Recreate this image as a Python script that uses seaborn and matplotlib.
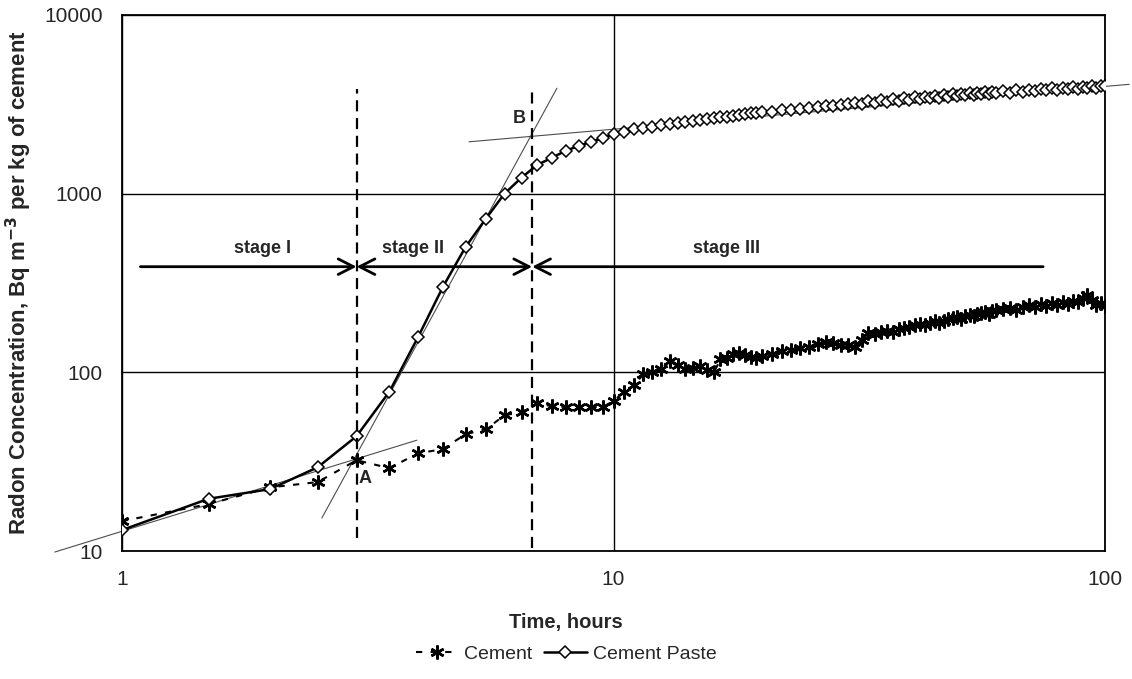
import matplotlib
matplotlib.use("Agg")
import matplotlib.pyplot as plt
import seaborn as sns
import pandas as pd

# time grid (hours) shared by both series
hours = [1.0, 1.5, 2.0, 2.5, 3.0, 3.5, 4.0, 4.5, 5.0, 5.5, 6.0, 6.5, 7.0, 7.5,
         8.0, 8.5, 9.0, 9.5, 10.0, 10.5, 11.0, 11.5, 12.0, 12.5, 13.0, 13.5,
         14.0, 14.5, 15.0, 15.5, 16.0, 16.5, 17.0, 17.5, 18.0, 18.5, 19.0,
         19.5, 20.0,
         21, 22, 23, 24, 25, 26, 27, 28, 29, 30, 31, 32, 33, 34, 35, 36, 37,
         38, 39, 40, 41, 42, 43, 44, 45, 46, 47, 48, 49, 50, 51, 52, 53, 54,
         55, 56, 57, 58, 59, 60,
         62, 64, 66, 68, 70, 72, 74, 76, 78, 80, 82, 84, 86, 88, 90, 92, 94,
         96, 98, 100]

cement = [14.7, 18.3, 22.7, 24.3, 32.2, 29.1, 35.2, 37.2, 45.1, 48.0, 57.5,
          59.8, 67, 64.6, 64, 64, 64, 64, 69, 78, 84.5, 97.5, 100, 105, 115,
          110, 104, 106, 109, 103, 100, 118, 121, 126, 129, 125, 122, 120, 124,
          127, 131, 133, 136, 139, 144, 147, 145, 142, 143, 139, 152, 166, 163,
          168, 171, 169, 175, 178, 180, 185, 187, 184, 189, 193, 190, 194, 198,
          201, 203, 199, 207, 210, 206, 212, 214, 218, 213, 220, 222,
          226, 229, 224, 233, 237, 232, 240, 236, 243, 238, 246, 241, 250, 247,
          262, 270, 255, 238, 245, 235]

paste = [13.1, 19.6, 22.2, 29.4, 43.9, 78, 157, 302, 503, 725, 1000, 1230,
         1450, 1590, 1740, 1850, 1950, 2040, 2160, 2200, 2300, 2340, 2370,
         2420, 2450, 2480, 2510, 2550, 2580, 2610, 2640, 2670, 2700, 2730,
         2760, 2780, 2810, 2830, 2850,
         2880, 2920, 2950, 2990, 3020, 3050, 3080, 3110, 3140, 3170,
         3230, 3170, 3280, 3220, 3330, 3260, 3370, 3310, 3410, 3350,
         3460, 3390, 3490, 3420, 3530, 3450, 3560, 3480, 3590, 3520,
         3620, 3550, 3650, 3570, 3680, 3600, 3700, 3620, 3720, 3640,
         3760, 3680, 3790, 3720, 3820, 3750, 3860, 3780, 3890, 3810,
         3920, 3840, 3940, 3870, 3960, 3890, 3990, 3920, 4010, 4000]

# stage boundaries and tangent lines
stage_bounds = [3.0, 6.83]
stage_names = ["stage I", "stage II", "stage III"]
stage_label_x = [1.93, 3.91, 17.0]
arrow_y = 390
tangent_1 = ([0.73, 3.98], [9.87, 41.7])
tangent_2 = ([2.55, 7.67], [15.3, 3890])
tangent_3 = ([5.08, 112], [1950, 4090])

sns.set_style("white")
plt.rcParams["font.family"] = ["Liberation Sans", "DejaVu Sans"]

df = pd.DataFrame({"hours": hours, "Cement": cement, "Cement Paste": paste})

fig = plt.figure(figsize=(11.32, 6.79), dpi=100)
ax = fig.add_axes([0.1078, 0.1885, 0.8684, 0.7895])

# tangent lines
for tx, ty in (tangent_1, tangent_2, tangent_3):
    ax.plot(tx, ty, color="0.3", lw=0.8, clip_on=False, zorder=2)

sns.lineplot(data=df, x="hours", y="Cement", ax=ax, estimator=None, sort=False,
             color="black", lw=1.5, linestyle=(0, (3, 4)), marker=(6, 2, 0),
             markersize=10, markeredgewidth=1.8, markeredgecolor="black",
             label="Cement", zorder=3)
sns.lineplot(data=df, x="hours", y="Cement Paste", ax=ax, estimator=None, sort=False,
             color="black", lw=1.8, marker="D", markersize=6.5,
             markerfacecolor="white", markeredgecolor="black", markeredgewidth=1.1,
             label="Cement Paste", zorder=4)

ax.set_xscale("log")
ax.set_yscale("log")
ax.set_xlim(1, 100)
ax.set_ylim(10, 10000)
ax.set_xticks([1, 10, 100])
ax.set_xticklabels(["1", "10", "100"])
ax.set_yticks([10, 100, 1000, 10000])
ax.set_yticklabels(["10", "100", "1000", "10000"])
ax.minorticks_off()
ax.tick_params(length=0, labelsize=15, pad=14)
ax.grid(True, which="major", color="black", lw=1)
for s in ax.spines.values():
    s.set_color("black")
    s.set_linewidth(1.3)

# stage dividers
for xb, ybot in zip(stage_bounds, [11.8, 10.4]):
    ax.plot([xb, xb], [ybot, 3870], color="black", lw=1.6,
            linestyle=(0, (5, 3)), zorder=5)

# stage arrows
arr = dict(lw=2, color="black", shrinkA=0, shrinkB=0, mutation_scale=20)
ax.annotate("", xy=(stage_bounds[0], arrow_y), xytext=(1.09, arrow_y),
            arrowprops=dict(arrowstyle="->,head_length=0.55,head_width=0.28", **arr))
ax.annotate("", xy=(stage_bounds[1], arrow_y), xytext=(stage_bounds[0], arrow_y),
            arrowprops=dict(arrowstyle="<->,head_length=0.55,head_width=0.28", **arr))
ax.annotate("", xy=(74.8, arrow_y), xytext=(stage_bounds[1], arrow_y),
            arrowprops=dict(arrowstyle="<-,head_length=0.55,head_width=0.28", **arr))
for name, lx in zip(stage_names, stage_label_x):
    ax.text(lx, 490, name, ha="center", va="center", fontsize=13, fontweight="bold")

ax.text(3.12, 25.6, "A", ha="center", va="center", fontsize=13, fontweight="bold")
ax.text(6.43, 2640, "B", ha="center", va="center", fontsize=13, fontweight="bold")

ax.set_xlabel("Time, hours", fontsize=14.5, fontweight="bold")
ax.xaxis.set_label_coords(0.4517, -0.116)
ax.set_ylabel("Radon Concentration, Bq m$^{\\mathbf{-3}}$ per kg of cement",
              fontsize=16, fontweight="bold", labelpad=7)

fig.legend(handles=ax.get_lines()[3:5], labels=["Cement", "Cement Paste"],
           loc="center", bbox_to_anchor=(0.5, 0.037), ncol=2, frameon=False,
           fontsize=14, handlelength=2.2, columnspacing=0.6, handletextpad=0.3)
ax.get_legend().remove()

fig.savefig("out.png", dpi=100)
